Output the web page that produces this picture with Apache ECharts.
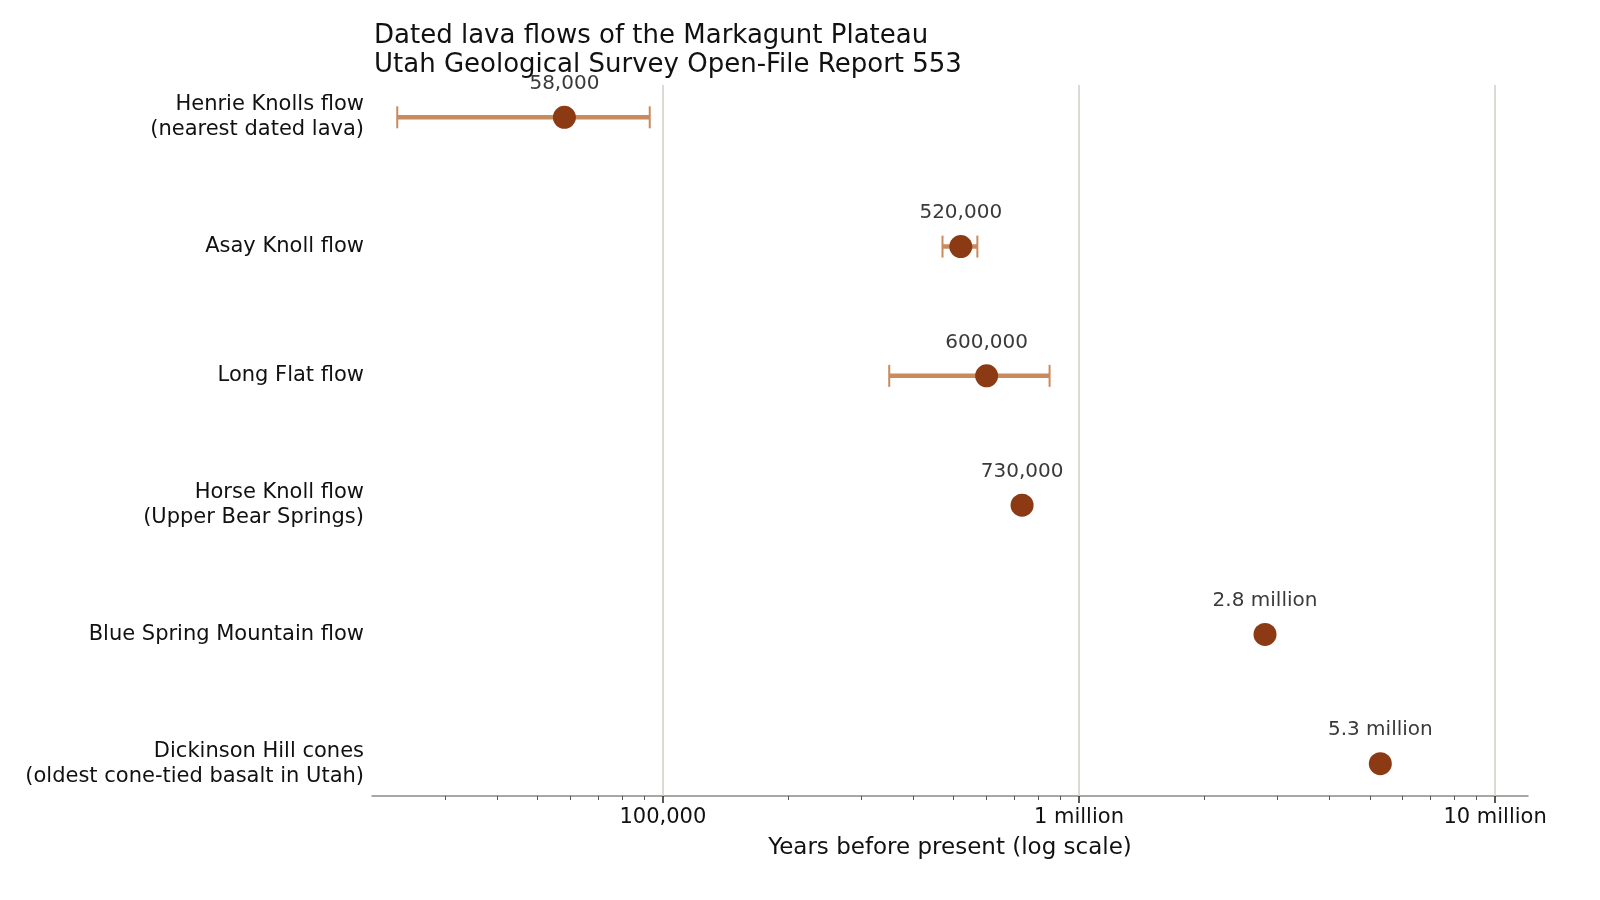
<!DOCTYPE html>
<html>
<head>
<meta charset="utf-8">
<script src="https://cdn.jsdelivr.net/npm/echarts@6/dist/echarts.min.js"></script>
<style>
html,body{margin:0;padding:0;background:#fff;}
#chart{width:1600px;height:900px;}
</style>
</head>
<body>
<div id="chart"></div>
<script>
const categories = [
  "Henrie Knolls flow\n(nearest dated lava)",
  "Asay Knoll flow",
  "Long Flat flow",
  "Horse Knoll flow\n(Upper Bear Springs)",
  "Blue Spring Mountain flow",
  "Dickinson Hill cones\n(oldest cone-tied basalt in Utah)"
];
const ages = [58000, 520000, 600000, 730000, 2800000, 5300000];
const ageErrors = [35000, 50000, 250000, 10000, null, null];
const ageLabels = ["58,000", "520,000", "600,000", "730,000", "2.8 million", "5.3 million"];
const majorTicks = [100000, 1000000, 10000000];
const majorTickLabels = ["100,000", "1 million", "10 million"];
const minorTicks = [30000, 40000, 50000, 60000, 70000, 80000, 90000,
  200000, 300000, 400000, 500000, 600000, 700000, 800000, 900000,
  2000000, 3000000, 4000000, 5000000, 6000000, 7000000, 8000000, 9000000];
const xMin = 20000, xMax = 12000000;

const font = 'DejaVu Sans';
const chart = echarts.init(document.getElementById('chart'));

const errData = [];
ages.forEach((v, i) => {
  if (ageErrors[i] != null) errData.push([v - ageErrors[i], v + ageErrors[i], i]);
});

const option = {
  animation: false,
  backgroundColor: '#ffffff',
  textStyle: { fontFamily: font },
  title: {
    text: 'Dated lava flows of the Markagunt Plateau\nUtah Geological Survey Open-File Report 553',
    left: 369, top: 17,
    textStyle: { fontFamily: font, fontSize: 26, fontWeight: 'normal', color: '#111', lineHeight: 29 }
  },
  grid: { left: 372, right: 72, top: 85, bottom: 104, containLabel: false },
  xAxis: [{
    type: 'log', logBase: 10, min: xMin, max: xMax,
    position: 'bottom',
    axisLine: { show: true, onZero: false, lineStyle: { color: '#8a8a8a', width: 1.5 } },
    axisTick: { show: true, customValues: majorTicks, length: 7, lineStyle: { color: '#222', width: 1.5 } },
    axisLabel: {
      show: true, customValues: majorTicks, margin: 11,
      fontFamily: font, fontSize: 21, color: '#111',
      formatter: v => { const k = majorTicks.findIndex(t => Math.abs(t - v) / t < 1e-6); return k >= 0 ? majorTickLabels[k] : ''; }
    },
    splitLine: { show: false },
    name: 'Years before present (log scale)',
    nameLocation: 'middle', nameGap: 41,
    nameTextStyle: { fontFamily: font, fontSize: 23, color: '#111' }
  }, {
    type: 'log', logBase: 10, min: xMin, max: xMax,
    position: 'bottom', gridIndex: 0,
    axisLine: { show: false, onZero: false },
    axisTick: { show: true, customValues: minorTicks, length: 4, lineStyle: { color: '#555', width: 1 } },
    axisLabel: { show: false },
    splitLine: { show: false }
  }],
  yAxis: {
    type: 'value', min: -0.25, max: 5.25, inverse: true,
    axisLine: { show: false },
    axisTick: { show: false },
    splitLine: { show: false },
    axisLabel: {
      show: true, customValues: [0, 1, 2, 3, 4, 5], margin: 8,
      fontFamily: font, fontSize: 21, color: '#111', lineHeight: 25, align: 'right',
      formatter: v => categories[Math.round(v)] || ''
    }
  },
  series: [
    {
      type: 'scatter', data: [], z: 1, silent: true,
      markLine: {
        silent: true, symbol: 'none', animation: false,
        label: { show: false },
        lineStyle: { color: '#cfcfc4', width: 1.5, type: 'solid' },
        data: majorTicks.map(v => ({ xAxis: v }))
      }
    },
    {
      type: 'custom', z: 2, silent: true,
      data: errData,
      encode: { x: [0, 1], y: 2 },
      renderItem: (params, api) => {
        const y = api.value(2);
        const p1 = api.coord([api.value(0), y]);
        const p2 = api.coord([api.value(1), y]);
        const h = 11;
        const col = '#c98a5e';
        return {
          type: 'group',
          children: [
            { type: 'line', shape: { x1: p1[0], y1: p1[1], x2: p2[0], y2: p2[1] }, style: { stroke: col, lineWidth: 4.5 } },
            { type: 'line', shape: { x1: p1[0], y1: p1[1] - h, x2: p1[0], y2: p1[1] + h }, style: { stroke: col, lineWidth: 2 } },
            { type: 'line', shape: { x1: p2[0], y1: p2[1] - h, x2: p2[0], y2: p2[1] + h }, style: { stroke: col, lineWidth: 2 } }
          ]
        };
      }
    },
    {
      type: 'scatter', z: 3,
      symbolSize: 23,
      itemStyle: { color: '#8b3a14', opacity: 1 },
      data: ages.map((v, i) => [v, i]),
      label: {
        show: true, position: 'top', distance: 12,
        fontFamily: font, fontSize: 20, color: '#3a3a3a',
        formatter: p => ageLabels[p.dataIndex]
      }
    }
  ]
};
chart.setOption(option);
</script>
</body>
</html>
